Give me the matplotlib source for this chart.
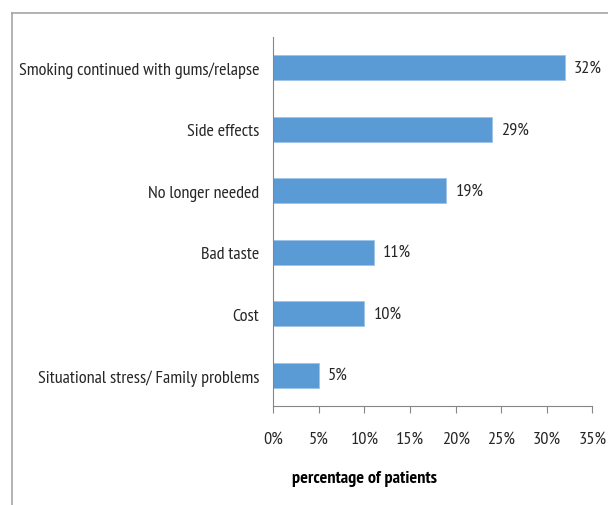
import matplotlib
matplotlib.use("Agg")
import matplotlib.pyplot as plt
from matplotlib.lines import Line2D

categories = ["Smoking continued with gums/relapse", "Side effects", "No longer needed",
              "Bad taste", "Cost", "Situational stress/ Family problems"]
bar_values = [32, 24, 19, 11, 10, 5]
value_labels = ["32%", "29%", "19%", "11%", "10%", "5%"]
x_ticks = [0, 5, 10, 15, 20, 25, 30, 35]
x_tick_labels = ["0%", "5%", "10%", "15%", "20%", "25%", "30%", "35%"]
x_label = "percentage of patients"

plt.rcParams['font.family'] = ["PT Sans Narrow", "DejaVu Sans"]

W, H = 608, 506
fig = plt.figure(figsize=(W / 100, H / 100), dpi=100)
ax = fig.add_axes([273.3 / W, 1 - 407 / H, (592.3 - 273.3) / W, (407 - 38) / H])

text_color = "#262626"
spine_color = "#868686"
fs = 13.1
ypos = list(range(len(categories)))
ax.barh(ypos, bar_values, height=0.41, color="#5B9BD5", edgecolor="#9DC3E6", linewidth=0.6)
ax.set_ylim(len(categories) - 0.5, -0.5)
ax.set_xlim(0, 35)
ax.set_yticks(ypos)
ax.set_yticklabels(categories, fontsize=fs, color=text_color)
ax.set_xticks(x_ticks)
ax.set_xticklabels(x_tick_labels, fontsize=fs, color=text_color)
ax.tick_params(axis='y', length=0, pad=10)
ax.tick_params(axis='x', length=5, width=0.8, color=spine_color, pad=12.5)
for s in ["top", "right"]:
    ax.spines[s].set_visible(False)
for s in ["left", "bottom"]:
    ax.spines[s].set_color(spine_color)
    ax.spines[s].set_linewidth(0.8)

for y, v, lab in zip(ypos, bar_values, value_labels):
    ax.annotate(lab, (v, y), xytext=(6.5, 0), textcoords="offset points",
                va="center", ha="left", fontsize=fs, color=text_color)

fig.text(292 / W, 1 - 479 / H, x_label, fontsize=fs, fontweight="bold",
         color="black", ha="left", va="center")

frame_color = "#a6a6a6"
fig.add_artist(Line2D([12 / W, 1], [1 - 14 / H, 1 - 14 / H], color=frame_color, lw=1.2,
                      transform=fig.transFigure))
fig.add_artist(Line2D([12 / W, 12 / W], [1 - 14 / H, 0], color=frame_color, lw=1.2,
                      transform=fig.transFigure))

fig.savefig("out.png", dpi=100)
